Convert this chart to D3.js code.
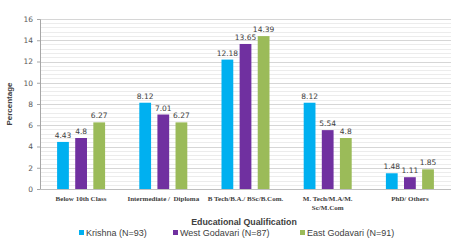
<!DOCTYPE html>
<html>
<head>
<meta charset="utf-8">
<script src="https://cdn.jsdelivr.net/npm/d3@7"></script>
<style>
  body { margin: 0; background: #fff; }
  svg { display: block; font-family: "Liberation Sans", Arial, sans-serif; }
</style>
</head>
<body>
<div id="chart"></div>
<script>
const categories = ['Below 10th Class', 'Intermediate /  Diploma', 'B Tech/B.A./ BSc/B.Com.', 'M. Tech/M.A/M.|Sc/M.Com', 'PhD/ Others']
const seriesNames = ['Krishna (N=93)', 'West Godavari (N=87)', 'East Godavari (N=91)']
const krishna = [4.43, 8.12, 12.18, 8.12, 1.48]
const westGodavari = [4.8, 7.01, 13.65, 5.54, 1.11]
const eastGodavari = [6.27, 6.27, 14.39, 4.8, 1.85]
const yTicks = [0, 2, 4, 6, 8, 10, 12, 14, 16]
const colors = ['#00b0f0', '#7030a0', '#9bbb59']

const W = 454, H = 245
const margin = {top: 19, left: 40, right: 3, bottom: 56}
const width = W - margin.left - margin.right
const height = H - margin.top - margin.bottom

const svg = d3.select('#chart').append('svg')
  .attr('width', W)
  .attr('height', H)

const g = svg.append('g')
  .attr('transform', `translate(${margin.left},${margin.top})`)

const x = d3.scaleBand().domain(categories).range([0, width])
const xSub = d3.scaleBand().domain(seriesNames).range([-24, 24]).paddingInner(0.35)
const y = d3.scaleLinear().domain([0, 16]).range([height, 0])

// minor grid every 0.4
g.append('g')
  .selectAll('line')
  .data(d3.range(0, 16.01, 0.4).filter(v => Math.abs(v / 2 - Math.round(v / 2)) > 0.01))
  .enter().append('line')
  .attr('x1', 0).attr('x2', width)
  .attr('y1', d => Math.round(y(d)) + 0.5).attr('y2', d => Math.round(y(d)) + 0.5)
  .style('stroke', '#ececec')

// major grid
g.append('g')
  .selectAll('line')
  .data(yTicks.slice(1))
  .enter().append('line')
  .attr('x1', 0).attr('x2', width)
  .attr('y1', d => Math.round(y(d)) + 0.5).attr('y2', d => Math.round(y(d)) + 0.5)
  .style('stroke', '#d6d6d6')

const yaxis = g.append('g').call(d3.axisLeft(y).tickValues(yTicks).tickSize(3).tickPadding(4))
yaxis.select('.domain').style('stroke', '#a6a6a6')
yaxis.selectAll('.tick line').style('stroke', '#a6a6a6')
yaxis.selectAll('text')
  .style('fill', '#595959')
  .style('font-size', '7.5px')
  .style('font-family', '"DejaVu Sans", sans-serif')

// baseline
g.append('line')
  .attr('x1', 0).attr('x2', width)
  .attr('y1', y(0) + 0.5).attr('y2', y(0) + 0.5)
  .style('stroke', '#bfbfbf')

const series = [krishna, westGodavari, eastGodavari]
series.forEach((vals, si) => {
  const name = seriesNames[si]
  const grp = g.append('g')
  grp.selectAll('rect')
    .data(vals)
    .enter().append('rect')
    .attr('x', (d, i) => x(categories[i]) + x.bandwidth() / 2 + xSub(name))
    .attr('width', xSub.bandwidth())
    .attr('y', d => y(d))
    .attr('height', d => y(0) - y(d))
    .style('fill', colors[si])
  grp.selectAll('text')
    .data(vals)
    .enter().append('text')
    .attr('x', (d, i) => x(categories[i]) + x.bandwidth() / 2 + xSub(name) + xSub.bandwidth() / 2)
    .attr('y', d => y(d) - 4)
    .attr('text-anchor', 'middle')
    .style('font-size', '7.5px')
    .style('font-family', '"DejaVu Sans", sans-serif')
    .style('fill', '#404040')
    .text(d => d)
})

// category labels
categories.forEach(c => {
  const t = g.append('text')
    .attr('x', x(c) + x.bandwidth() / 2)
    .attr('y', height + 12)
    .attr('text-anchor', 'middle')
    .style('font-size', '7px')
    .style('font-weight', 'bold')
    .style('font-family', '"Liberation Serif", serif')
    .style('white-space', 'pre')
    .style('fill', '#404040')
  c.split('|').forEach((line, i) => {
    t.append('tspan')
      .attr('x', x(c) + x.bandwidth() / 2)
      .attr('dy', i === 0 ? 0 : 9)
      .text(line)
  })
})

// axis titles
svg.append('text')
  .attr('x', 244)
  .attr('y', 225)
  .attr('text-anchor', 'middle')
  .style('font-size', '8.8px')
  .style('font-weight', 'bold')
  .style('fill', '#404040')
  .text('Educational Qualification')

svg.append('text')
  .attr('transform', `translate(12,${margin.top + height / 2}) rotate(-90)`)
  .attr('text-anchor', 'middle')
  .style('font-size', '8px')
  .style('font-weight', 'bold')
  .style('fill', '#404040')
  .text('Percentage')

// legend
const legendX = [79, 173, 300]
const legend = svg.append('g')
seriesNames.forEach((n, i) => {
  legend.append('rect')
    .attr('x', legendX[i]).attr('y', 230)
    .attr('width', 5).attr('height', 5)
    .style('fill', colors[i])
  legend.append('text')
    .attr('x', legendX[i] + 7).attr('y', 236)
    .style('font-size', '9px')
    .style('fill', '#404040')
    .text(n)
})
</script>
</body>
</html>
